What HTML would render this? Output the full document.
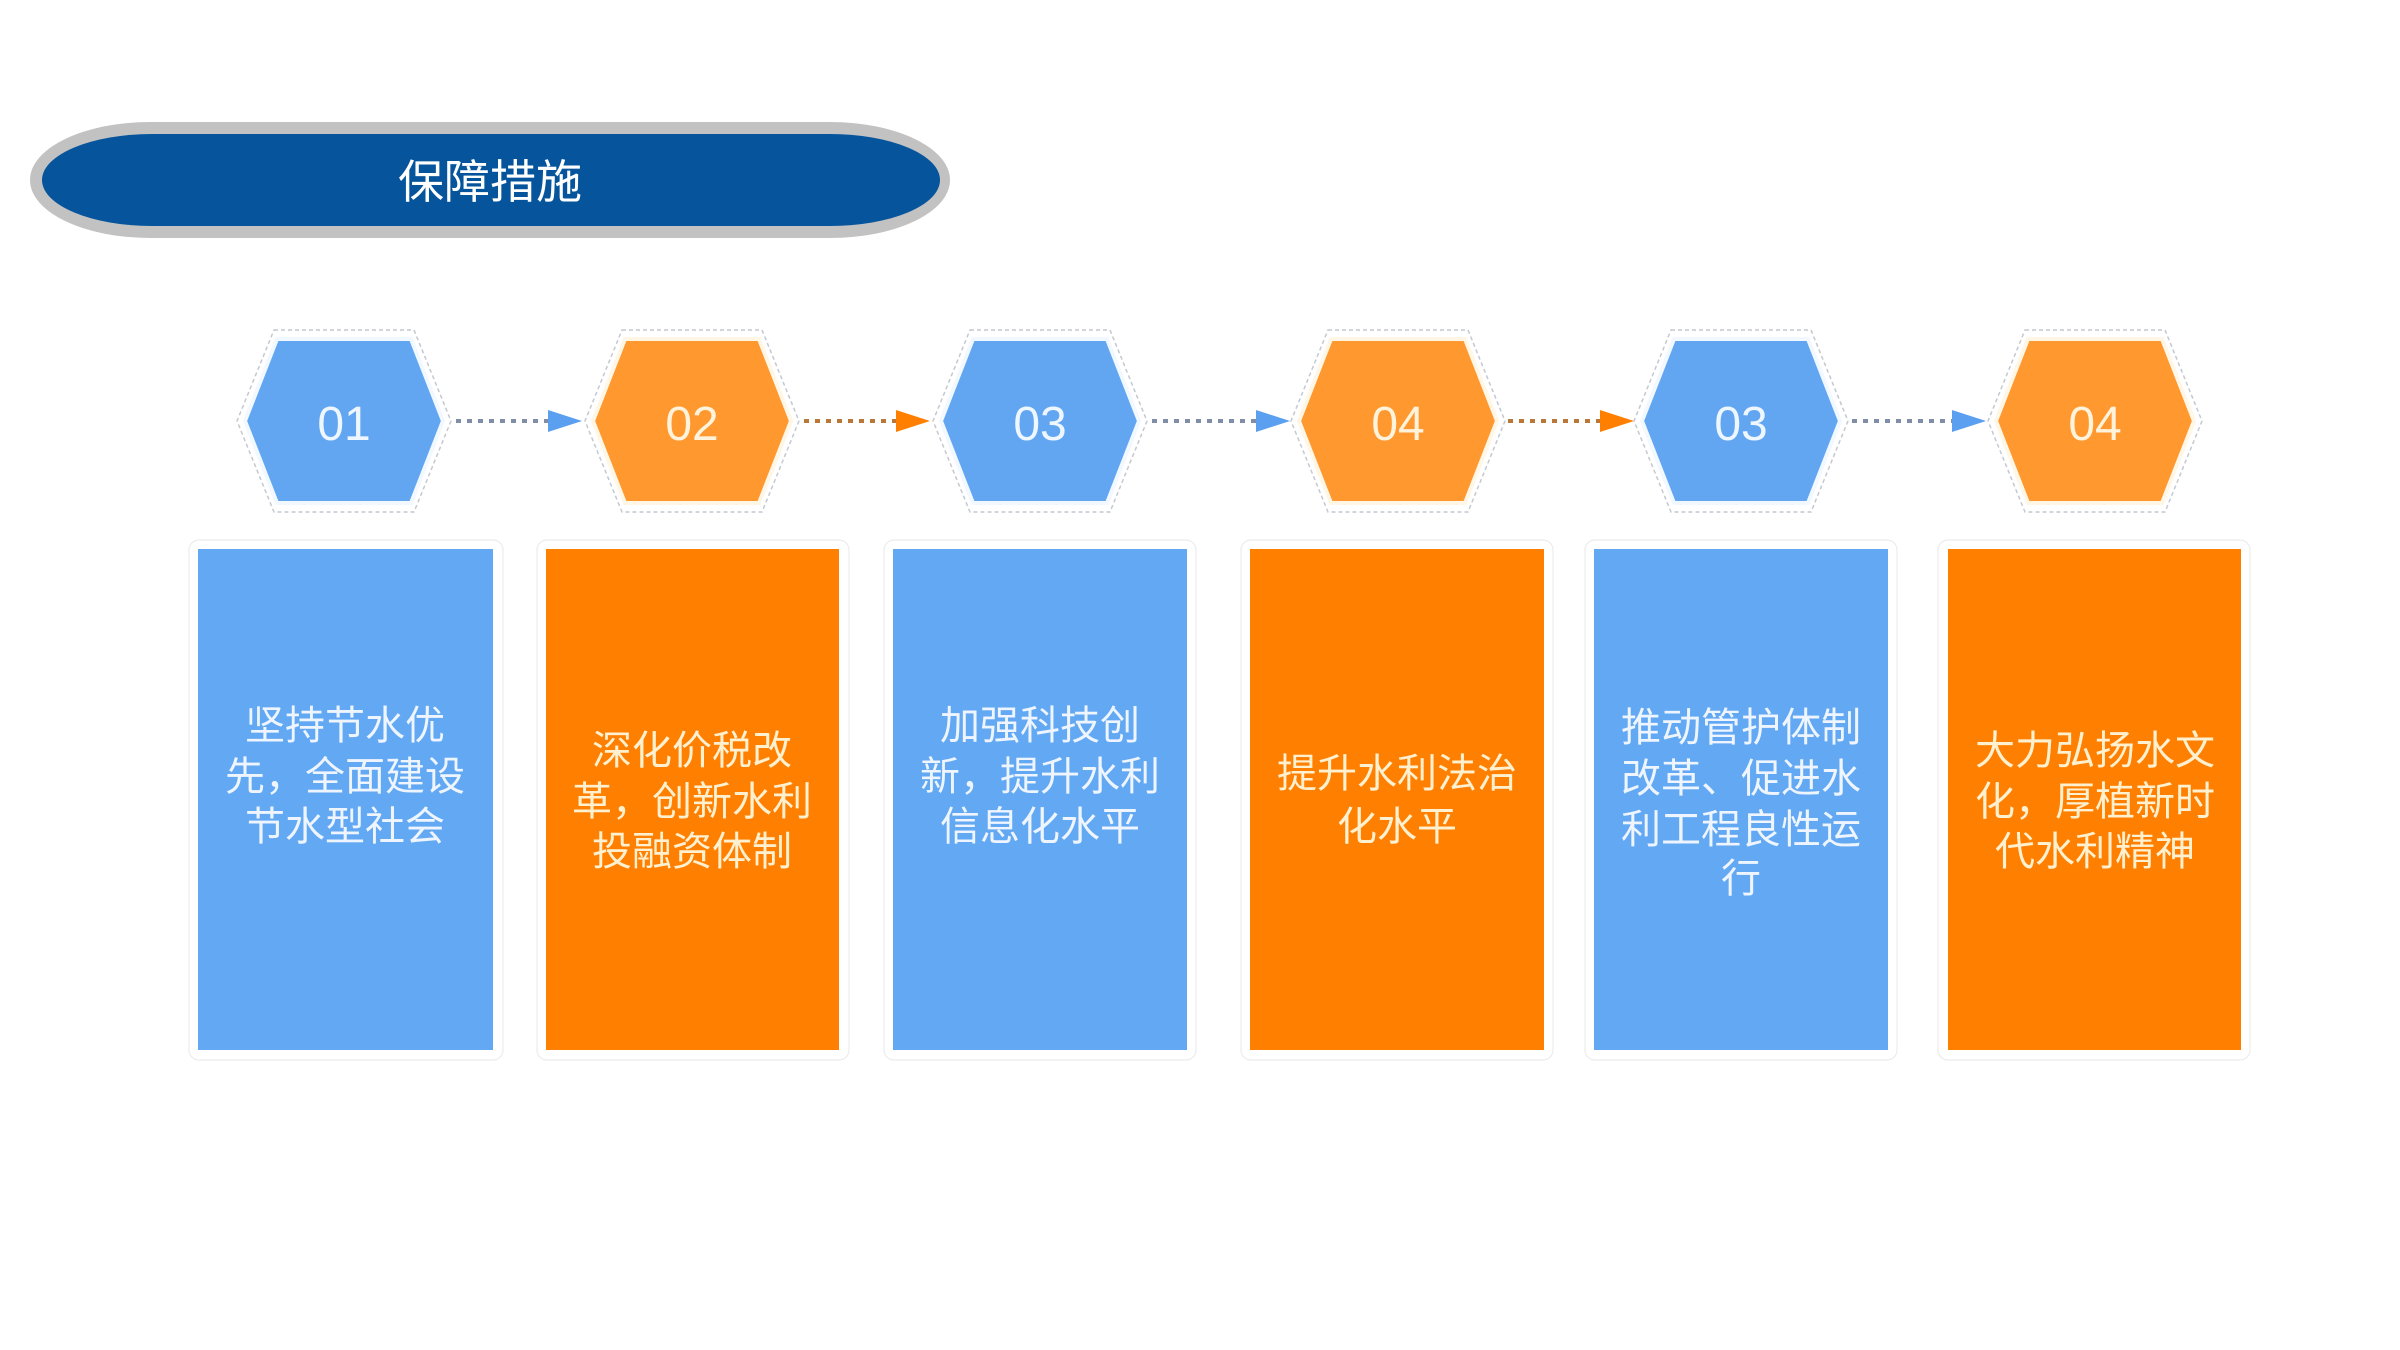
<!DOCTYPE html>
<html><head><meta charset="utf-8"><style>
html,body{margin:0;padding:0;background:#fff;}
svg{display:block;}
.num{font-family:"Liberation Sans",sans-serif;font-size:48px;text-anchor:middle;}
.t{font-family:"Liberation Sans","Noto Sans CJK SC",sans-serif;font-size:40px;text-anchor:middle;}
</style></head><body>
<svg width="2400" height="1350" viewBox="0 0 2400 1350" xmlns="http://www.w3.org/2000/svg">
<defs>
<g id="hexo"><polygon points="-70,-91 70,-91 107,0 70,91 -70,91 -107,0" fill="#fff" stroke="#c4c8d0" stroke-width="1.5" stroke-dasharray="4,3"/></g>
</defs>
<rect x="30" y="122" width="920" height="116" rx="120" ry="58" fill="#c2c2c2"/>
<rect x="42" y="134" width="898" height="92" rx="110" ry="46" fill="#06549b"/>
<text x="490" y="198" style="font-family:'Liberation Sans','Noto Sans CJK SC',sans-serif;font-size:46px;fill:#fff;text-anchor:middle">保障措施</text>

<g transform="translate(344,421)"><use href="#hexo"/><polygon points="-67,-82 67,-82 99,0 67,82 -67,82 -99,0" fill="#62a6f2" stroke="#f2f8ff" stroke-width="4"/><text class="num" y="19" fill="#eef6ff">01</text></g>
<g transform="translate(692,421)"><use href="#hexo"/><polygon points="-67,-82 67,-82 99,0 67,82 -67,82 -99,0" fill="#fe982f" stroke="#fff6e6" stroke-width="4"/><text class="num" y="19" fill="#fff3dc">02</text></g>
<g transform="translate(1040,421)"><use href="#hexo"/><polygon points="-67,-82 67,-82 99,0 67,82 -67,82 -99,0" fill="#62a6f2" stroke="#f2f8ff" stroke-width="4"/><text class="num" y="19" fill="#eef6ff">03</text></g>
<g transform="translate(1398,421)"><use href="#hexo"/><polygon points="-67,-82 67,-82 99,0 67,82 -67,82 -99,0" fill="#fe982f" stroke="#fff6e6" stroke-width="4"/><text class="num" y="19" fill="#fff3dc">04</text></g>
<g transform="translate(1741,421)"><use href="#hexo"/><polygon points="-67,-82 67,-82 99,0 67,82 -67,82 -99,0" fill="#62a6f2" stroke="#f2f8ff" stroke-width="4"/><text class="num" y="19" fill="#eef6ff">03</text></g>
<g transform="translate(2095,421)"><use href="#hexo"/><polygon points="-67,-82 67,-82 99,0 67,82 -67,82 -99,0" fill="#fe982f" stroke="#fff6e6" stroke-width="4"/><text class="num" y="19" fill="#fff3dc">04</text></g>

<g stroke-width="4" stroke-dasharray="5,6">
<line x1="456" y1="421" x2="548" y2="421" stroke="#7f8ea6"/>
<line x1="804" y1="421" x2="896" y2="421" stroke="#b9773a"/>
<line x1="1152" y1="421" x2="1256" y2="421" stroke="#7f8ea6"/>
<line x1="1508" y1="421" x2="1600" y2="421" stroke="#b9773a"/>
<line x1="1852" y1="421" x2="1952" y2="421" stroke="#7f8ea6"/>
</g>
<polygon points="548,410 582,421 548,432" fill="#5b9ff0"/>
<polygon points="896,410 930,421 896,432" fill="#ff7f00"/>
<polygon points="1256,410 1290,421 1256,432" fill="#5b9ff0"/>
<polygon points="1600,410 1634,421 1600,432" fill="#ff7f00"/>
<polygon points="1952,410 1986,421 1952,432" fill="#5b9ff0"/>

<g fill="none" stroke="#ececec" stroke-width="1.2">
<rect x="189" y="540" width="314" height="520" rx="10"/>
<rect x="537" y="540" width="312" height="520" rx="10"/>
<rect x="884" y="540" width="312" height="520" rx="10"/>
<rect x="1241" y="540" width="312" height="520" rx="10"/>
<rect x="1585" y="540" width="312" height="520" rx="10"/>
<rect x="1938" y="540" width="312" height="520" rx="10"/>
</g>
<rect x="198" y="549" width="295" height="501" fill="#62a8f2"/>
<rect x="546" y="549" width="293" height="501" fill="#ff7f00"/>
<rect x="893" y="549" width="294" height="501" fill="#62a8f2"/>
<rect x="1250" y="549" width="294" height="501" fill="#ff7f00"/>
<rect x="1594" y="549" width="294" height="501" fill="#62a8f2"/>
<rect x="1948" y="549" width="293" height="501" fill="#ff7f00"/>

<g class="t" fill="#eef5ff">
<text x="345" y="739">坚持节水优</text>
<text x="345" y="790">先，全面建设</text>
<text x="345" y="840">节水型社会</text>
<text x="1040" y="739">加强科技创</text>
<text x="1040" y="790">新，提升水利</text>
<text x="1040" y="840">信息化水平</text>
<text x="1741" y="741">推动管护体制</text>
<text x="1741" y="792">改革、促进水</text>
<text x="1741" y="843">利工程良性运</text>
<text x="1741" y="892">行</text>
</g>
<g class="t" fill="#fff1d0">
<text x="692" y="764">深化价税改</text>
<text x="692" y="815">革，创新水利</text>
<text x="692" y="865">投融资体制</text>
<text x="1397" y="787">提升水利法治</text>
<text x="1397" y="840">化水平</text>
<text x="2095" y="764">大力弘扬水文</text>
<text x="2095" y="815">化，厚植新时</text>
<text x="2095" y="865">代水利精神</text>
</g>
</svg>
</body></html>
